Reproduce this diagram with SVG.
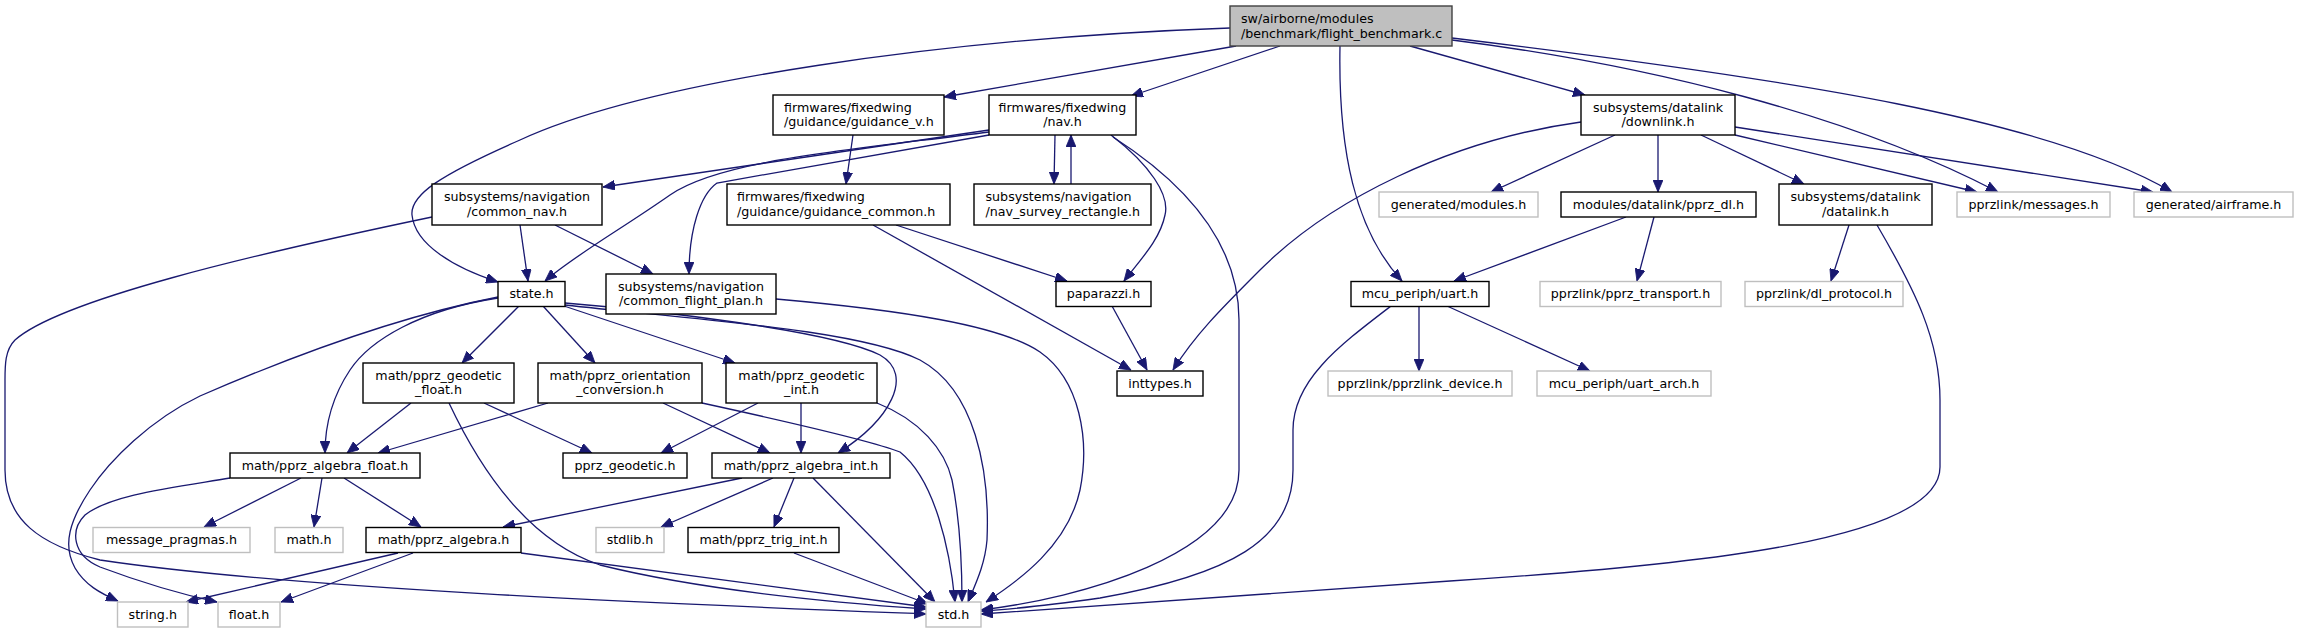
<svg xmlns="http://www.w3.org/2000/svg" width="2298" height="633" viewBox="0 0 2298 633">
<style>
.n rect{fill:#ffffff;stroke:#000000;stroke-width:1.4}
.u rect{fill:#ffffff;stroke:#bfbfbf;stroke-width:1.4}
.m rect{fill:#bfbfbf;stroke:#404040;stroke-width:1.4}
text{font-family:"DejaVu Sans","Liberation Sans",sans-serif;font-size:12.67px;fill:#000000}
.c{text-anchor:middle}
#edges path{fill:none;stroke:#191970;stroke-width:1.3;marker-end:url(#ah)}
</style>
<defs>
<marker id="ah" markerUnits="userSpaceOnUse" viewBox="0 0 12 10" refX="12" refY="5" markerWidth="12" markerHeight="10" orient="auto">
<path d="M0,0 L12,5 L0,10 z" fill="#191970" stroke="#191970" stroke-width="0.8"/>
</marker>
</defs>
<rect x="0" y="0" width="2298" height="633" fill="#ffffff"/>
<g id="edges">
<path d="M1230,28 C950,38 650,80 520,140 C440,175 410,195 412,215 C415,245 455,268 498,282"/>
<path d="M1236,46 L944,97"/>
<path d="M1280,46 L1131,96"/>
<path d="M1340,46 C1338,150 1355,230 1402,281"/>
<path d="M1410,46 L1585,95"/>
<path d="M1452,40 C1650,65 1850,115 1998,192"/>
<path d="M1452,38 C1800,80 2050,120 2172,192"/>
<path d="M853,135 L846,184"/>
<path d="M989,130 L603,187"/>
<path d="M989,132 C850,150 720,160 670,195 C620,230 575,255 545,281"/>
<path d="M989,135 L717,183 C700,195 689,230 689,274"/>
<path d="M1055,135 L1054,184"/>
<path d="M1071,184 L1071,135"/>
<path d="M1111,135 C1150,165 1170,195 1165,215 C1160,240 1140,260 1124,281"/>
<path d="M1113,137 C1180,180 1239,240 1239,320 L1239,470 C1239,555 1080,598 981,610"/>
<path d="M520,225 L528,281"/>
<path d="M555,225 L653,274"/>
<path d="M432,217 C250,255 60,300 15,340 C5,350 5,365 5,380 L5,470 C5,520 40,545 100,560 C300,590 700,605 926,614"/>
<path d="M896,225 L1067,281"/>
<path d="M873,225 L1131,370"/>
<path d="M1112,306 L1147,370"/>
<path d="M1581,122 C1450,140 1330,200 1260,270 C1220,310 1195,335 1173,370"/>
<path d="M1615,135 L1491,192"/>
<path d="M1658,135 L1658,192"/>
<path d="M1701,135 L1804,184"/>
<path d="M1735,135 L1977,192"/>
<path d="M1735,127 L2153,192"/>
<path d="M1626,217 L1454,281"/>
<path d="M1654,217 L1637,281"/>
<path d="M1849,225 L1831,281"/>
<path d="M1877,225 C1915,290 1940,340 1940,400 L1940,467 C1940,540 1700,565 1450,581 L981,614"/>
<path d="M1419,306 L1419,371"/>
<path d="M1447,306 L1590,371"/>
<path d="M1391,306 C1340,345 1293,380 1293,430 L1293,470 C1293,540 1230,575 1100,598 C1050,605 1000,610 981,611"/>
<path d="M776,299 C900,310 1000,325 1040,352 C1080,380 1090,440 1080,490 C1068,545 1020,580 986,602"/>
<path d="M519,306 L462,363"/>
<path d="M543,306 L595,363"/>
<path d="M564,306 L735,363"/>
<path d="M498,298 C420,310 370,340 350,370 C330,400 325,430 325,453"/>
<path d="M498,297 C380,320 260,370 200,396 C150,420 110,460 90,490 C70,520 62,545 75,568 C85,585 100,593 118,601"/>
<path d="M565,303 C650,310 830,330 880,355 C915,375 890,420 838,453"/>
<path d="M565,305 C700,320 860,330 920,360 C975,390 990,470 987,540 C985,565 975,585 968,602"/>
<path d="M411,403 L347,453"/>
<path d="M484,403 L592,453"/>
<path d="M449,403 C490,490 540,545 600,565 C700,590 840,603 926,609"/>
<path d="M548,403 L378,453"/>
<path d="M663,403 L770,453"/>
<path d="M702,403 C780,420 870,440 900,452 C935,480 950,550 955,602"/>
<path d="M758,403 L661,453"/>
<path d="M801,403 L801,453"/>
<path d="M877,403 C920,420 945,450 952,480 C960,520 962,560 962,602"/>
<path d="M301,478 L204,527"/>
<path d="M322,478 L314,527"/>
<path d="M344,478 L421,527"/>
<path d="M230,478 C170,488 110,495 85,515 C70,530 72,555 100,567 C140,582 185,595 217,602"/>
<path d="M742,478 L503,527"/>
<path d="M773,478 L661,527"/>
<path d="M794,478 L774,527"/>
<path d="M813,478 L935,602"/>
<path d="M398,553 L186,602"/>
<path d="M413,553 L281,602"/>
<path d="M521,553 L926,607"/>
<path d="M794,553 L928,604"/>
</g>
<g id="node_main" class="m"><rect x="1230" y="6" width="222" height="40"/><text x="1241" y="22.5">sw/airborne/modules</text><text x="1241" y="37.5">/benchmark/flight_benchmark.c</text></g>
<g id="node_guidance_v" class="n"><rect x="773" y="95" width="171" height="40"/><text x="784" y="111.5">firmwares/fixedwing</text><text x="784" y="126">/guidance/guidance_v.h</text></g>
<g id="node_nav" class="n"><rect x="989" y="95" width="147" height="40"/><text class="c" x="1062.5" y="111.5">firmwares/fixedwing</text><text class="c" x="1062.5" y="126">/nav.h</text></g>
<g id="node_downlink" class="n"><rect x="1581" y="95" width="154" height="40"/><text class="c" x="1658" y="111.5">subsystems/datalink</text><text class="c" x="1658" y="126">/downlink.h</text></g>
<g id="node_common_nav" class="n"><rect x="432" y="184" width="170" height="41"/><text class="c" x="517" y="201">subsystems/navigation</text><text class="c" x="517" y="215.5">/common_nav.h</text></g>
<g id="node_guidance_common" class="n"><rect x="727" y="184" width="223" height="41"/><text x="737" y="201">firmwares/fixedwing</text><text x="737" y="215.5">/guidance/guidance_common.h</text></g>
<g id="node_nav_survey" class="n"><rect x="974" y="184" width="177" height="41"/><text x="985.5" y="201">subsystems/navigation</text><text x="985.5" y="215.5">/nav_survey_rectangle.h</text></g>
<g id="node_modules" class="u"><rect x="1379" y="192" width="159" height="25"/><text class="c" x="1458.5" y="208.5">generated/modules.h</text></g>
<g id="node_pprz_dl" class="n"><rect x="1561" y="192" width="195" height="25"/><text class="c" x="1658.5" y="208.5">modules/datalink/pprz_dl.h</text></g>
<g id="node_datalink" class="n"><rect x="1779" y="184" width="153" height="41"/><text class="c" x="1855.5" y="201">subsystems/datalink</text><text class="c" x="1855.5" y="215.5">/datalink.h</text></g>
<g id="node_messages" class="u"><rect x="1957" y="192" width="153" height="25"/><text class="c" x="2033.5" y="208.5">pprzlink/messages.h</text></g>
<g id="node_airframe" class="u"><rect x="2134" y="192" width="159" height="25"/><text class="c" x="2213.5" y="208.5">generated/airframe.h</text></g>
<g id="node_state" class="n"><rect x="498" y="281.5" width="67" height="25"/><text class="c" x="531.5" y="298">state.h</text></g>
<g id="node_common_flight_plan" class="n"><rect x="606" y="274" width="170" height="40"/><text class="c" x="691" y="290.5">subsystems/navigation</text><text class="c" x="691" y="305">/common_flight_plan.h</text></g>
<g id="node_paparazzi" class="n"><rect x="1056" y="281.5" width="95" height="25"/><text class="c" x="1103.5" y="298">paparazzi.h</text></g>
<g id="node_uart" class="n"><rect x="1351" y="281.5" width="138" height="25"/><text class="c" x="1420" y="298">mcu_periph/uart.h</text></g>
<g id="node_pprz_transport" class="u"><rect x="1540" y="281.5" width="181" height="25"/><text class="c" x="1630.5" y="298">pprzlink/pprz_transport.h</text></g>
<g id="node_dl_protocol" class="u"><rect x="1745" y="281.5" width="158" height="25"/><text class="c" x="1824" y="298">pprzlink/dl_protocol.h</text></g>
<g id="node_geodetic_float" class="n"><rect x="363" y="363" width="151" height="40"/><text class="c" x="438.5" y="379.5">math/pprz_geodetic</text><text class="c" x="438.5" y="394">_float.h</text></g>
<g id="node_orientation" class="n"><rect x="538" y="363" width="164" height="40"/><text class="c" x="620" y="379.5">math/pprz_orientation</text><text class="c" x="620" y="394">_conversion.h</text></g>
<g id="node_geodetic_int" class="n"><rect x="726" y="363" width="151" height="40"/><text class="c" x="801.5" y="379.5">math/pprz_geodetic</text><text class="c" x="801.5" y="394">_int.h</text></g>
<g id="node_inttypes" class="n"><rect x="1117" y="371" width="86" height="25"/><text class="c" x="1160" y="387.5">inttypes.h</text></g>
<g id="node_pprzlink_device" class="u"><rect x="1328" y="371" width="184" height="25"/><text class="c" x="1420" y="387.5">pprzlink/pprzlink_device.h</text></g>
<g id="node_uart_arch" class="u"><rect x="1537" y="371" width="174" height="25"/><text class="c" x="1624" y="387.5">mcu_periph/uart_arch.h</text></g>
<g id="node_algebra_float" class="n"><rect x="230" y="453" width="190" height="25"/><text class="c" x="325" y="469.5">math/pprz_algebra_float.h</text></g>
<g id="node_pprz_geodetic" class="n"><rect x="563" y="453" width="124" height="25"/><text class="c" x="625" y="469.5">pprz_geodetic.h</text></g>
<g id="node_algebra_int" class="n"><rect x="712" y="453" width="178" height="25"/><text class="c" x="801" y="469.5">math/pprz_algebra_int.h</text></g>
<g id="node_message_pragmas" class="u"><rect x="93" y="527.5" width="157" height="25"/><text class="c" x="171.5" y="544">message_pragmas.h</text></g>
<g id="node_math" class="u"><rect x="275" y="527.5" width="68" height="25"/><text class="c" x="309" y="544">math.h</text></g>
<g id="node_algebra" class="n"><rect x="366" y="527.5" width="155" height="25"/><text class="c" x="443.5" y="544">math/pprz_algebra.h</text></g>
<g id="node_stdlib" class="u"><rect x="596" y="527.5" width="68" height="25"/><text class="c" x="630" y="544">stdlib.h</text></g>
<g id="node_trig_int" class="n"><rect x="688" y="527.5" width="151" height="25"/><text class="c" x="763.5" y="544">math/pprz_trig_int.h</text></g>
<g id="node_string" class="u"><rect x="117.5" y="602" width="70.5" height="25"/><text class="c" x="152.75" y="618.5">string.h</text></g>
<g id="node_float" class="u"><rect x="218" y="602" width="62" height="25"/><text class="c" x="249" y="618.5">float.h</text></g>
<g id="node_std" class="u"><rect x="926" y="602" width="55" height="25"/><text class="c" x="953.5" y="618.5">std.h</text></g>
</svg>
